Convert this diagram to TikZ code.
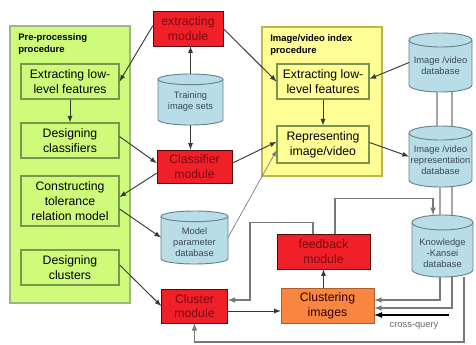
\documentclass[tikz,border=0pt]{standalone}
\usepackage{fontspec}
\setmainfont{Liberation Sans}
\usetikzlibrary{backgrounds}

\definecolor{procgreen}{RGB}{206,252,122}
\definecolor{procyellow}{RGB}{255,255,150}
\definecolor{boxedge}{RGB}{120,150,80}
\definecolor{modred}{RGB}{240,32,40}
\definecolor{modtext}{RGB}{120,10,20}
\definecolor{clusorange}{RGB}{248,134,64}
\definecolor{dbblue}{RGB}{184,221,230}
\definecolor{dbedge}{RGB}{100,130,145}
\definecolor{dbtext}{RGB}{60,72,92}
\definecolor{wire}{RGB}{55,55,55}
\definecolor{loopwire}{RGB}{120,120,120}

% text of a database, lowered by #1 below the middle of the drum
\newcommand\dblines[2]{\raisebox{-#1}[0pt][0pt]{\begin{tabular}{@{}c@{}}#2\end{tabular}}}
% drum drawn behind a database node: #2 = x radius, #3 = y radius of its ends
\newcommand\dbdrum[3]{%
    \begin{pgfonlayer}{background}
        \draw[draw=dbedge,fill=dbblue,line width=0.7pt]
            ([yshift=-#3]#1.north west) -- ([yshift=#3]#1.south west)
            arc[start angle=180,end angle=360,x radius=#2,y radius=#3]
            -- ([yshift=-#3]#1.north east)
            arc[start angle=0,end angle=180,x radius=#2,y radius=#3] -- cycle;
        \draw[draw=dbedge,line width=0.7pt] ([yshift=-#3]#1.north west)
            arc[start angle=180,end angle=360,x radius=#2,y radius=#3];
    \end{pgfonlayer}}

\begin{document}
\begin{tikzpicture}[x=0.75pt,y=-0.75pt,>=latex,
    bigfont/.style={font=\fontsize{9.2}{11}\selectfont},
    smallfont/.style={font=\fontsize{7}{8.2}\selectfont},
    stepbox/.style={bigfont,draw=boxedge,line width=0.8pt,align=center,inner sep=1pt,
        minimum width=73.5pt,minimum height=26.25pt},
    modbox/.style={bigfont,draw=modtext!70!black,fill=modred,text=modtext,align=center,
        inner sep=1pt,minimum height=26.25pt},
    dbase/.style={smallfont,text=dbtext,inner sep=0pt,outer sep=0pt},
    title/.style={font=\fontsize{7.1}{9}\selectfont\bfseries,align=left,anchor=north west,inner sep=0pt},
    arr/.style={->,draw=wire,line width=0.7pt},
    loop/.style={->,draw=loopwire,line width=0.9pt},
    twin/.style={draw=black!35,line width=1pt}]

    \useasboundingbox (0,0) rectangle (476,344);

    % the two procedure panels
    \draw[draw=boxedge!70,fill=procgreen,line width=0.8pt] (10,26) rectangle (130,303);
    \draw[draw=olive!60,fill=procyellow,line width=0.8pt] (262,27) rectangle (382,176);
    \node[title] (pretitle) at (18,33) {Pre-processing\\procedure};
    \node[title] (idxtitle) at (270,34) {Image/video index\\procedure};

    % pre-processing steps
    \node[stepbox,fill=procgreen] (extL) at (70,81.5) {Extracting low-\\level features};
    \node[stepbox,fill=procgreen] (desC) at (70,140.5) {Designing\\classifiers};
    \node[stepbox,fill=procgreen,minimum height=37.5pt] (constr) at (70,201) {Constructing\\tolerance\\relation model};
    \node[stepbox,fill=procgreen] (desCl) at (70,267.5) {Designing\\clusters};

    % index steps
    \node[stepbox,fill=procyellow,minimum width=69pt] (extR) at (323,81.5) {Extracting low-\\level features};
    \node[stepbox,fill=procyellow,minimum width=69pt,minimum height=27.75pt] (repr) at (323,144.5) {Representing\\image/video};

    % modules
    \node[modbox,minimum width=52.5pt] (extmod) at (188,28.5) {extracting\\module};
    \node[modbox,minimum width=56.25pt,minimum height=24.75pt] (clsmod) at (194.5,166.5) {Classifier\\module};
    \node[modbox,minimum width=49.5pt,minimum height=25.5pt] (clumod) at (194.5,306) {Cluster\\module};
    \node[modbox,minimum width=69.75pt] (fbmod) at (323.5,251.5) {feedback\\module};
    \node[modbox,fill=clusorange,text=black!80!red,draw=clusorange!70!black,minimum width=69.75pt] (clust) at (327.5,305.5) {Clustering\\images};

    % databases
    \node[dbase,minimum width=48.75pt,minimum height=38.25pt] (train) at (190.5,99.5) {\dblines{3.6pt}{Training\\image sets}};
    \dbdrum{train}{24.375pt}{4pt}
    \node[dbase,minimum width=50.25pt,minimum height=39.75pt] (mpdb) at (194.5,237.5) {\dblines{5.9pt}{Model\\parameter\\database}};
    \dbdrum{mpdb}{25.125pt}{4pt}
    \node[dbase,minimum width=47.25pt,minimum height=44.25pt] (imgdb) at (440.5,62.5) {\dblines{5.1pt}{Image /video\\database}};
    \dbdrum{imgdb}{23.625pt}{5.25pt}
    \node[dbase,minimum width=47.25pt,minimum height=45.75pt] (repdb) at (440.5,156.5) {\dblines{5.1pt}{Image /video\\representation\\database}};
    \dbdrum{repdb}{23.625pt}{5.25pt}
    \node[dbase,minimum width=45.75pt,minimum height=46.5pt] (know) at (442.5,246) {\dblines{7.7pt}{Knowledge\\-Kansei\\database}};
    \dbdrum{know}{22.875pt}{5.6pt}

    % connectors of the upper part
    \draw[arr] ([yshift=2pt]extmod.west) -- (extL.east);
    \draw[arr] (extmod.east) -- (extR.west);
    \draw[arr] (train.north) -- (train.north |- extmod.south);
    \draw[arr] (train.south) -- (train.south |- clsmod.north);
    \draw[arr] (extL.south) -- (desC.north);
    \draw[arr] ([yshift=3pt]desC.east) -- ([yshift=2.6pt]clsmod.west);
    \draw[arr] ([yshift=-5pt]clsmod.west) -- ([yshift=3pt]constr.east);
    \draw[arr] ([yshift=-6pt]constr.east) -- (mpdb.west);
    \draw[arr] ([yshift=2pt]desCl.east) -- (clumod.west);
    \draw[arr] ([yshift=2.5pt]clsmod.east) -- ([yshift=2pt]repr.west);
    \draw[arr,draw=loopwire,line width=0.5pt] (mpdb.east) -- ([yshift=-4.5pt]repr.west);
    \draw[arr] (imgdb.west) -- ([yshift=2pt]extR.east);
    \draw[arr] ([yshift=1.5pt]repr.east) -- (repdb.west);
    \draw[arr] (extR.south) -- (repr.north);

    % twin lines between the databases
    \draw[twin] ([xshift=-2.6pt]imgdb.south) -- ([xshift=-2.6pt]imgdb.south |- repdb.north);
    \draw[twin] ([xshift=8.6pt]imgdb.south) -- ([xshift=8.6pt]imgdb.south |- repdb.north);
    \draw[twin] ([xshift=-0.4pt]repdb.south) -- ([xshift=-0.4pt]repdb.south |- know.north);
    \draw[twin] ([xshift=8.6pt]repdb.south) -- ([xshift=8.6pt]repdb.south |- know.north);

    % feedback loops
    \draw[loop] ([xshift=8.6pt]fbmod.north) -- ++(0,-35) -| ([xshift=-7.1pt]know.north);
    \draw[loop] ([xshift=-7.9pt]fbmod.north) -- ++(0,-11) -- ++(-63,0) |- ([yshift=4.5pt]clumod.east);
    \draw[arr] ([yshift=-3.75pt]clumod.east) -- ([yshift=-3.75pt]clumod.east -| clust.west);
    \draw[arr] (fbmod.south |- clust.north) -- (fbmod.south);
    \draw[loop] ([xshift=-1.9pt]know.south) |- ([yshift=4.1pt]clust.east);
    \draw[loop] ([xshift=7.1pt]know.south) |- ([yshift=-1.9pt]clust.east);
    \draw[loop] ([xshift=16.1pt]know.south) -- ++(0,65) -| (clumod.south);

    % cross-query
    \coordinate (cq) at (449,315);
    \draw[arr,draw=black,line width=1pt] (cq) -- (cq -| clust.east);
    \node[smallfont,text=black!60,anchor=north] (cqlabel) at (414,318) {cross-query};
\end{tikzpicture}
\end{document}
